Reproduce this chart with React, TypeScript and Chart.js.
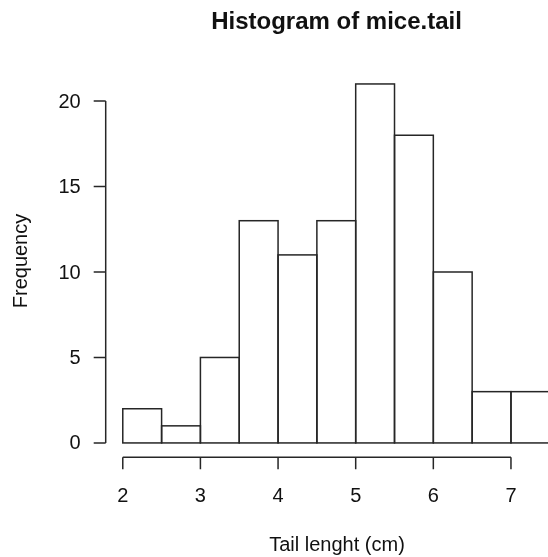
import React, { useEffect, useRef } from "react";
import { Chart, registerables } from "chart.js";

Chart.register(...registerables);

// ---- data ----
const binCenters = [2.25, 2.75, 3.25, 3.75, 4.25, 4.75, 5.25, 5.75, 6.25, 6.75, 7.25];
const frequencies = [2, 1, 5, 13, 11, 13, 21, 18, 10, 3, 3];
const xTicks = [2, 3, 4, 5, 6, 7];
const yTicks = [0, 5, 10, 15, 20];
const titleText = "Histogram of mice.tail";
const xLabel = "Tail lenght (cm)";
const yLabel = "Frequency";

const LINE = "#262626";
const TEXT = "#111111";
const FONT = '"Liberation Sans", Arial, Helvetica, sans-serif';

const rPlot = {
  id: "rPlot",
  afterDatasetsDraw(chart: any) {
    const ctx = chart.ctx as CanvasRenderingContext2D;
    const meta = chart.getDatasetMeta(0);
    ctx.save();
    ctx.strokeStyle = LINE;
    ctx.lineWidth = 1.5;
    meta.data.forEach((el: any) => {
      const { x, y, base, width } = el.getProps(["x", "y", "base", "width"], true);
      ctx.strokeRect(x - width / 2, y, width, base - y);
    });
    ctx.restore();
  },
  afterDraw(chart: any) {
    const ctx = chart.ctx as CanvasRenderingContext2D;
    const xs = chart.scales.x;
    const ys = chart.scales.y;
    const area = chart.chartArea;
    const tick = 12;
    ctx.save();
    ctx.strokeStyle = LINE;
    ctx.lineWidth = 1.5;
    ctx.fillStyle = TEXT;

    // y axis
    const ax = area.left;
    ctx.beginPath();
    ctx.moveTo(ax, ys.getPixelForValue(yTicks[0]));
    ctx.lineTo(ax, ys.getPixelForValue(yTicks[yTicks.length - 1]));
    yTicks.forEach((v) => {
      const py = ys.getPixelForValue(v);
      ctx.moveTo(ax, py);
      ctx.lineTo(ax - tick, py);
    });
    ctx.stroke();
    ctx.font = `20px ${FONT}`;
    ctx.textAlign = "right";
    ctx.textBaseline = "middle";
    yTicks.forEach((v) => {
      ctx.fillText(String(v), ax - 25, ys.getPixelForValue(v) + 1);
    });

    // x axis
    const ay = area.bottom;
    ctx.beginPath();
    ctx.moveTo(xs.getPixelForValue(xTicks[0]), ay);
    ctx.lineTo(xs.getPixelForValue(xTicks[xTicks.length - 1]), ay);
    xTicks.forEach((v) => {
      const px = xs.getPixelForValue(v);
      ctx.moveTo(px, ay);
      ctx.lineTo(px, ay + tick);
    });
    ctx.stroke();
    ctx.textAlign = "center";
    ctx.textBaseline = "alphabetic";
    xTicks.forEach((v) => {
      ctx.fillText(String(v), xs.getPixelForValue(v), ay + 45);
    });

    // x label
    ctx.fillText(xLabel, 337, 551);

    // y label
    ctx.save();
    ctx.translate(27, 261);
    ctx.rotate(-Math.PI / 2);
    ctx.fillText(yLabel, 0, 0);
    ctx.restore();

    // title
    ctx.font = `bold 24px ${FONT}`;
    ctx.fillText(titleText, 336.5, 29);

    ctx.restore();
  },
};

export default function App() {
  const ref = useRef<HTMLCanvasElement | null>(null);

  useEffect(() => {
    document.body.style.margin = "0";
    document.body.style.overflow = "hidden";
    const canvas = ref.current;
    if (!canvas) return;
    const chart = new Chart(canvas, {
      type: "bar",
      data: {
        datasets: [
          {
            data: binCenters.map((c, i) => ({ x: c, y: frequencies[i] })),
            backgroundColor: "rgba(255,255,255,0)",
            borderWidth: 0,
            barPercentage: 1,
            categoryPercentage: 1,
          },
        ],
      },
      options: {
        responsive: false,
        animation: false,
        events: [],
        layout: {
          padding: { left: 105.7, right: 0, top: 69.6, bottom: 99.7 },
        },
        plugins: {
          legend: { display: false },
          tooltip: { enabled: false },
          title: { display: false },
        },
        scales: {
          x: {
            type: "linear",
            offset: false,
            min: 1.78,
            max: 7.477,
            display: false,
            ticks: { stepSize: 0.5, includeBounds: false },
          },
          y: {
            type: "linear",
            min: -0.84,
            max: 21.84,
            display: false,
          },
        },
      },
      plugins: [rPlot],
    });
    return () => chart.destroy();
  }, []);

  return (
    <div style={{ width: 548, height: 557, background: "#fff" }}>
      <canvas ref={ref} width={548} height={557} style={{ display: "block" }} />
    </div>
  );
}
